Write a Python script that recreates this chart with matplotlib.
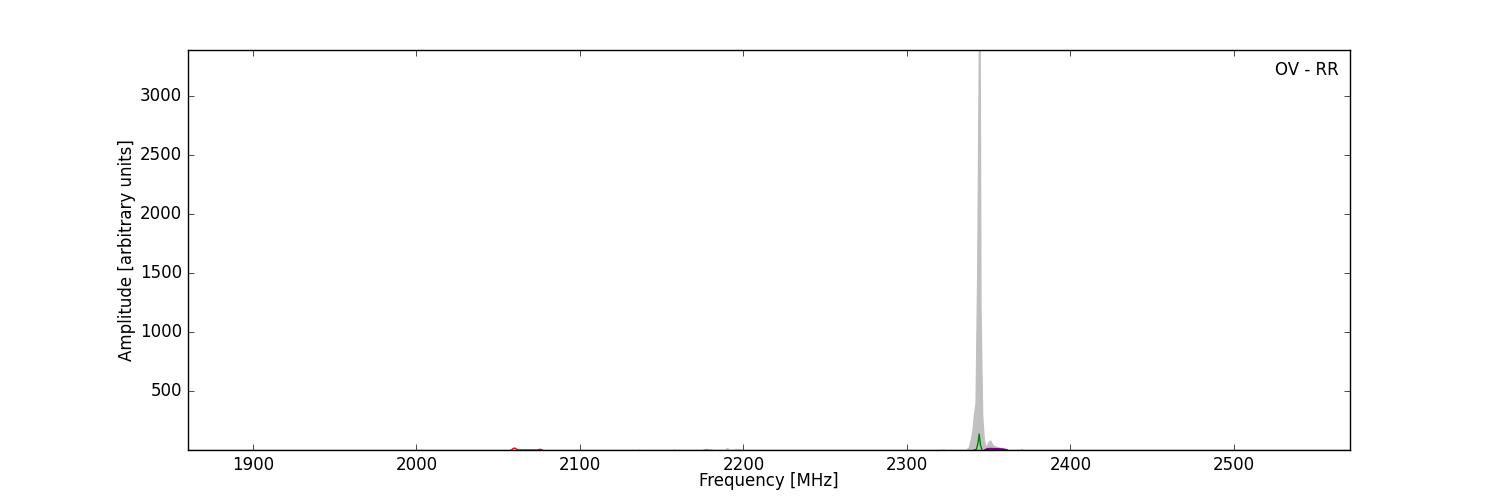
import numpy as np
import matplotlib
matplotlib.use('Agg')
import matplotlib.pyplot as plt

plt.style.use('classic')

# total spectrum (grey)
freq_all = [1860, 2135, 2136, 2137, 2157, 2158, 2159, 2179, 2180, 2181,
            2189, 2190, 2191, 2194, 2195, 2196, 2197, 2198, 2320, 2322, 2324,
            2336, 2338, 2340, 2341, 2342, 2343, 2344, 2344.5, 2345, 2346, 2347,
            2348, 2349, 2350, 2351, 2352, 2353, 2354, 2356, 2358, 2360, 2362,
            2369, 2370, 2371, 2571]
amp_all = [0, 0, 3, 0, 0, 5, 0, 0, 8, 0,
           0, 18, 0, 0, 9, 0, 9, 0, 0, 4, 0,
           0, 25, 150, 300, 400, 1500, 3390, 3390, 1200, 300, 90,
           30, 40, 70, 80, 50, 35, 30, 22, 15, 8, 0,
           0, 10, 0, 0]

# components
freq_g = [2341, 2342.5, 2343.5, 2344.2, 2345, 2346]
amp_g = [0, 5, 60, 135, 40, 0]

freq_p = [2348, 2349, 2351, 2353, 2356, 2359, 2361]
amp_p = [0, 8, 10, 9, 8, 5, 0]

freq_r = [2058, 2059.5, 2060.5, 2062, 2074, 2075.5, 2077]
amp_r = [0, 15, 15, 0, 0, 6, 0]

freq_o = [2176, 2177.5, 2179]
amp_o = [0, 5, 0]

fig = plt.figure(figsize=(15, 5), dpi=100)
fig.patch.set_facecolor('white')
ax = fig.add_subplot(111)
ax.fill_between(freq_all, amp_all, 0, color='silver', edgecolor='silver', lw=1)
ax.plot(freq_r, amp_r, color='red', lw=1)
ax.plot(freq_o, amp_o, color='#c8a050', lw=1)
ax.plot(freq_p, amp_p, color='purple', lw=1.5)
ax.plot(freq_g, amp_g, color='green', lw=1)

ax.set_xlim(1860, 2571)
ax.set_ylim(0, 3390)
ax.set_yticks([500, 1000, 1500, 2000, 2500, 3000])
ax.set_xticks([1900, 2000, 2100, 2200, 2300, 2400, 2500])
ax.set_xlabel('Frequency [MHz]', labelpad=-1)
ax.set_ylabel('Amplitude [arbitrary units]', labelpad=3)
ax.text(0.99, 0.95, 'OV - RR', transform=ax.transAxes, ha='right', va='center', fontsize=12)

fig.savefig('out.png', dpi=100, facecolor='white')
